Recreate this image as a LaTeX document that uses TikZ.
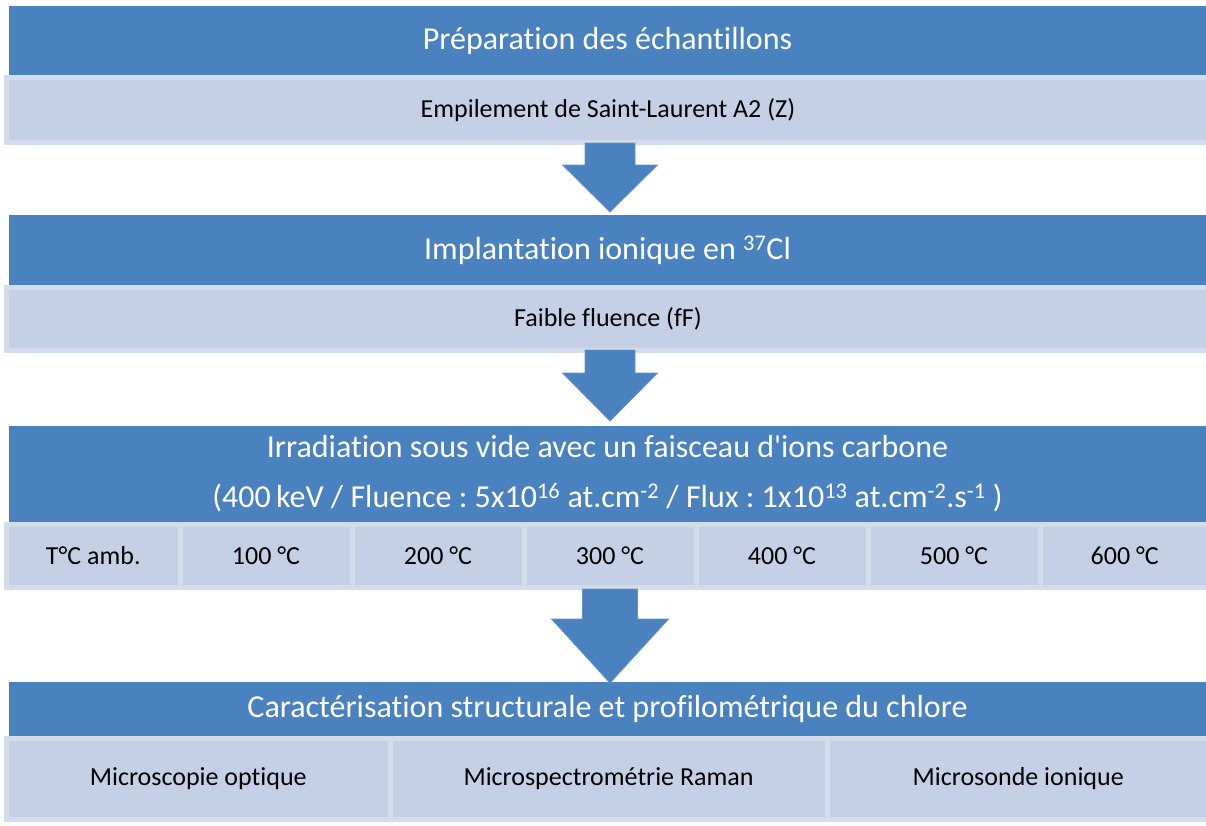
\documentclass[tikz,border=0pt]{standalone}
\usepackage{fontspec}
\setmainfont{Carlito}[Ligatures={TeXOff,CommonOff}]
\usetikzlibrary{calc}
\definecolor{dkblue}{HTML}{4A81BF}
\definecolor{ltfill}{HTML}{C5D0E7}
\definecolor{ltframe}{HTML}{D3DCEA}
\frenchspacing
\newcommand\blockarrow[5]{%
  \filldraw[flowarrow] ($(#1)+(-#3,0)$) -- ($(#1)+(#3,0)$) -- ($(#2)+(#3,-#5)$) -- ($(#2)+(#4,-#5)$) -- (#2) -- ($(#2)+(-#4,-#5)$) -- ($(#2)+(-#3,-#5)$) -- cycle;}
\begin{document}
\begin{tikzpicture}[x=1pt,y=-1pt,
  darkbox/.style={fill=dkblue,text=white,inner sep=0pt,minimum width=1197pt,font=\fontsize{32}{50}\selectfont,align=center},
  lightcell/.style={fill=ltfill,draw=ltframe,line width=5pt,inner sep=0pt,font=\fontsize{26}{30}\selectfont,text=black},
  flowarrow/.style={fill=dkblue,draw=dkblue!85!white,line width=0.8pt}]
\useasboundingbox (0,0) rectangle (1206,825);
\fill[white] (0,0) rectangle (1206,825);

% Block 1
\node[lightcell,minimum width=1203pt,minimum height=65pt] (l1) at (608,110) {Empilement de Saint-Laurent A2 (Z)};
\node[darkbox,minimum height=69pt] (d1) at (607.5,40.5) {Préparation des échantillons};

% Block 2
\node[lightcell,minimum width=1203pt,minimum height=63pt] (l2) at (608,319) {Faible fluence (fF)};
\node[darkbox,minimum height=70pt] (d2) at (607.5,250) {Implantation ionique en \textsuperscript{37}Cl};

% Block 3
\node[lightcell,minimum width=173.5pt,minimum height=63pt] (t0) at (93.25,556) {T°C amb.};
\node[lightcell,minimum width=172pt,minimum height=63pt] (t1) at (266,556) {100 °C};
\node[lightcell,minimum width=172pt,minimum height=63pt] (t2) at (438,556) {200 °C};
\node[lightcell,minimum width=172pt,minimum height=63pt] (t3) at (610,556) {300 °C};
\node[lightcell,minimum width=172pt,minimum height=63pt] (t4) at (782,556) {400 °C};
\node[lightcell,minimum width=172pt,minimum height=63pt] (t5) at (954,556) {500 °C};
\node[lightcell,minimum width=169.5pt,minimum height=63pt] (t6) at (1124.75,556) {600 °C};
\node[darkbox,minimum height=96pt] (d3) at (607.5,474) {Irradiation sous vide avec un faisceau d'ions carbone\\(400\,keV / Fluence : 5x10\textsuperscript{16} at.cm\textsuperscript{-2} / Flux : 1x10\textsuperscript{13} at.cm\textsuperscript{-2}.s\textsuperscript{-1} )};

% Block 4
\node[lightcell,minimum width=383.5pt,minimum height=81pt] (m1) at (198.25,779) {Microscopie optique};
\node[lightcell,minimum width=437pt,minimum height=81pt] (m2) at (608.5,779) {Microspectrométrie Raman};
\node[lightcell,minimum width=382.5pt,minimum height=81pt] (m3) at (1018.25,779) {Microsonde ionique};
\node[darkbox,minimum height=54pt] (d4) at (607.5,709) {Caractérisation structurale et profilométrique du chlore};

% Arrows
\coordinate (a1s) at (610,143); \coordinate (a1e) at (610,212);
\coordinate (a2s) at (610,350); \coordinate (a2e) at (610,421);
\coordinate (a3s) at (610,589); \coordinate (a3e) at (610,683);
\blockarrow{a1s}{a1e}{25}{47.5}{47}
\blockarrow{a2s}{a2e}{25}{47.5}{48}
\blockarrow{a3s}{a3e}{27.5}{58.5}{64}
\end{tikzpicture}
\end{document}
